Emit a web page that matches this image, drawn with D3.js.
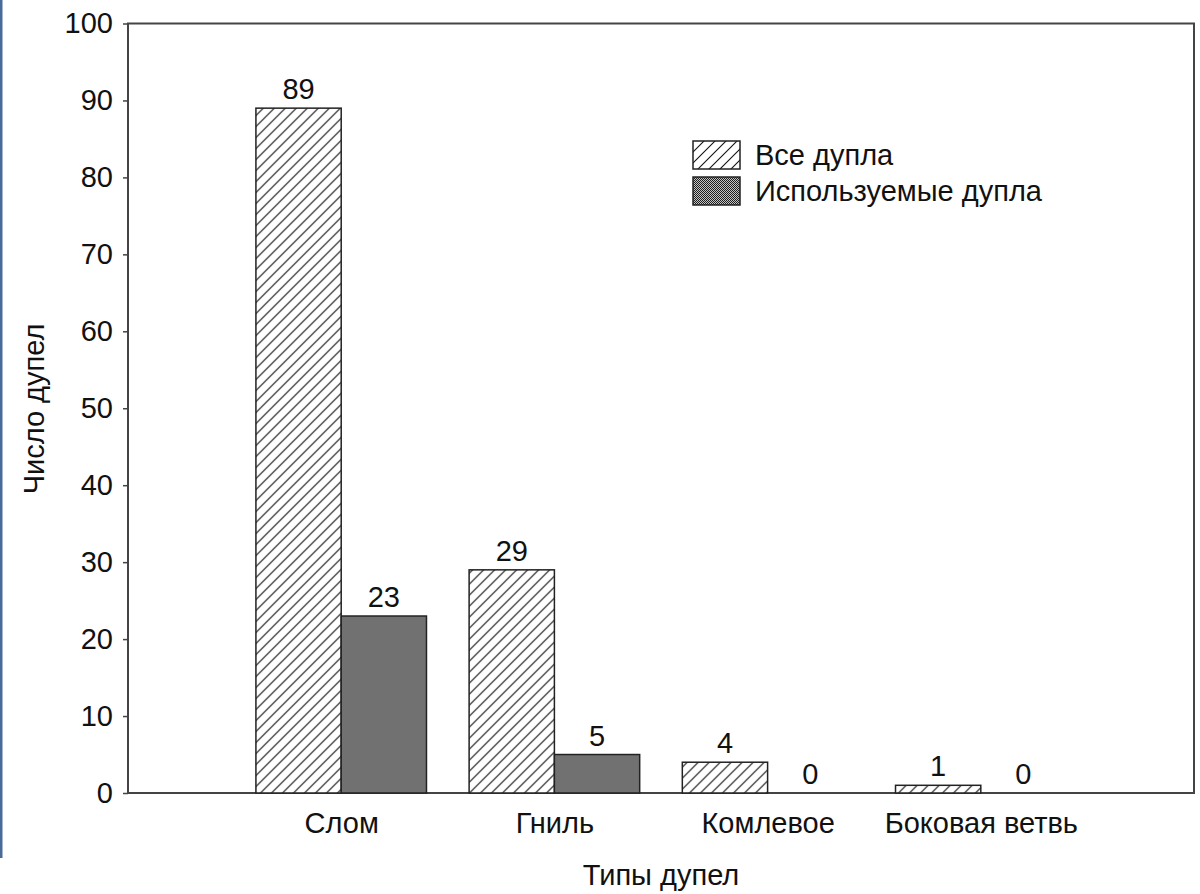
<!DOCTYPE html>
<html>
<head>
<meta charset="utf-8">
<script src="https://cdn.jsdelivr.net/npm/d3@7/dist/d3.min.js"></script>
<style>
  html, body { margin: 0; padding: 0; background: #fff; }
  svg text { font-family: "Liberation Sans", Arial, sans-serif; fill: #111; }
</style>
</head>
<body>
<div id="chart"></div>
<script>
  var categories = ['Слом', 'Гниль', 'Комлевое', 'Боковая ветвь'];
  var allHollows = [89, 29, 4, 1];
  var usedHollows = [23, 5, 0, 0];
  var seriesNames = ['Все дупла', 'Используемые дупла'];
  var yTicks = [0, 10, 20, 30, 40, 50, 60, 70, 80, 90, 100];

  var W = 1200, H = 894;
  var MARGIN = { TOP: 23.5, RIGHT: 6, BOTTOM: 101, LEFT: 128 };
  var width = W - MARGIN.LEFT - MARGIN.RIGHT;
  var height = H - MARGIN.TOP - MARGIN.BOTTOM;
  var FONT = '29px';

  var svg = d3.select('#chart').append('svg')
    .attr('width', W)
    .attr('height', H);

  // narrow slide strip on the left edge
  svg.append('rect')
    .attr('x', 0).attr('y', 0)
    .attr('width', 2.5).attr('height', 858)
    .style('fill', '#4a6a9a');

  var defs = svg.append('defs');
  var hatch = defs.append('pattern')
    .attr('id', 'hatch')
    .attr('patternUnits', 'userSpaceOnUse')
    .attr('width', 11).attr('height', 11);
  hatch.append('rect').attr('width', 11).attr('height', 11).style('fill', '#fff');
  hatch.append('path')
    .attr('d', 'M0,11 L11,0 M-3,3 L3,-3 M8,14 L14,8')
    .style('stroke', '#111')
    .style('stroke-width', 1.1);

  var dots = defs.append('pattern')
    .attr('id', 'dots')
    .attr('patternUnits', 'userSpaceOnUse')
    .attr('width', 2).attr('height', 2);
  dots.append('rect').attr('width', 2).attr('height', 2).style('fill', '#c4c4c4');
  dots.append('rect').attr('width', 1).attr('height', 1).style('fill', '#1e1e1e');
  dots.append('rect').attr('x', 1).attr('y', 1).attr('width', 1).attr('height', 1).style('fill', '#1e1e1e');

  var g = svg.append('g')
    .attr('transform', 'translate(' + MARGIN.LEFT + ',' + MARGIN.TOP + ')');

  var x = d3.scalePoint()
    .domain(categories)
    .range([0, width])
    .padding(1);

  var y = d3.scaleLinear()
    .domain([0, 100])
    .range([height, 0]);

  var barW = x.step() * 0.4;

  // frame
  g.append('rect')
    .attr('x', 0).attr('y', 0)
    .attr('width', width).attr('height', height)
    .style('fill', 'none')
    .style('stroke', '#444')
    .style('stroke-width', 2);

  var yAxis = d3.axisLeft(y)
    .tickValues(yTicks)
    .tickSize(5)
    .tickPadding(10);

  var ya = g.append('g').call(yAxis);
  ya.select('.domain').remove();
  ya.selectAll('line').style('stroke', '#444').style('stroke-width', 1.5);
  ya.selectAll('text')
    .style('font-size', FONT)
    .style('font-family', '"Liberation Sans", Arial, sans-serif')
    .style('fill', '#111');

  var xa = g.append('g')
    .attr('transform', 'translate(0,' + height + ')')
    .call(d3.axisBottom(x).tickSize(0));
  xa.select('.domain').remove();
  xa.selectAll('text')
    .attr('y', 40)
    .attr('dy', 0)
    .style('font-size', FONT)
    .style('font-family', '"Liberation Sans", Arial, sans-serif')
    .style('fill', '#111');

  var series = [
    { name: seriesNames[0], values: allHollows, fill: 'url(#hatch)', offset: -barW },
    { name: seriesNames[1], values: usedHollows, fill: 'url(#dots)', offset: 0 }
  ];

  series.forEach(function(s) {
    var data = categories.map(function(c, i) { return { cat: c, v: s.values[i] }; });

    g.selectAll(null)
      .data(data.filter(function(d) { return d.v > 0; }))
      .enter().append('rect')
      .attr('x', function(d) { return x(d.cat) + s.offset; })
      .attr('y', function(d) { return y(d.v); })
      .attr('width', barW)
      .attr('height', function(d) { return height - y(d.v); })
      .style('fill', s.fill)
      .style('stroke', '#222')
      .style('stroke-width', 1.5);

    g.selectAll(null)
      .data(data)
      .enter().append('text')
      .attr('x', function(d) { return x(d.cat) + s.offset + barW / 2; })
      .attr('y', function(d) { return y(d.v) - 9; })
      .attr('text-anchor', 'middle')
      .style('font-size', FONT)
      .text(function(d) { return d.v; });
  });

  // legend
  var legend = svg.append('g')
    .attr('transform', 'translate(693,141)');
  series.forEach(function(s, i) {
    legend.append('rect')
      .attr('x', 0).attr('y', i * 36)
      .attr('width', 47).attr('height', 28)
      .style('fill', s.fill)
      .style('stroke', '#222')
      .style('stroke-width', 1.5);
    legend.append('text')
      .attr('x', 62).attr('y', i * 36 + 24)
      .style('font-size', FONT)
      .text(s.name);
  });

  // axis titles
  svg.append('text')
    .attr('x', MARGIN.LEFT + width / 2)
    .attr('y', 885)
    .attr('text-anchor', 'middle')
    .style('font-size', FONT)
    .text('Типы дупел');

  svg.append('text')
    .attr('transform', 'translate(44,409) rotate(-90)')
    .attr('text-anchor', 'middle')
    .style('font-size', FONT)
    .text('Число дупел');
</script>
</body>
</html>
